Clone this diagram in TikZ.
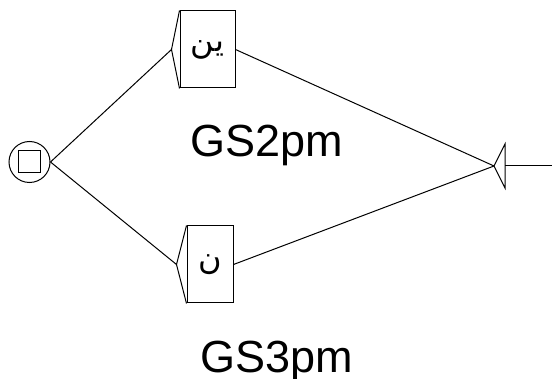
\documentclass[tikz,border=0pt]{standalone}
\usepackage{fontspec}
\setmainfont{Liberation Sans}
\newfontfamily\arabicfont[Script=Arabic]{DejaVu Sans}
\TeXXeTstate=1
\definecolor{grInk}{HTML}{000000}
\tikzset{
  gr line/.style={draw=grInk, line width=1pt},
  gr state/.style={circle, draw=grInk, line width=1pt, minimum size=41pt, inner sep=0pt},
  gr square/.style={draw=grInk, line width=1pt, minimum size=22pt, inner sep=0pt},
  gr box/.style={draw=grInk, line width=1pt, minimum height=77pt, inner sep=0pt, font=\arabicfont\fontsize{32}{36}\selectfont},
  gr output/.style={anchor=base west, inner sep=0pt, font=\fontsize{45}{50}\selectfont},
}

\begin{document}
\begin{tikzpicture}[x=1pt, y=-1pt]
  \useasboundingbox (0,0) rectangle (552,379);
  % initial state
  \node[gr state] (init) at (29.5,162) {};
  \node[gr square] (initsq) at (init.center) {};
  % the two boxes with their outputs
  \node[gr box, minimum width=55pt] (yn) at (207.5,49.5) {\raisebox{-5pt}{\beginR ين\endR}};
  \node[gr box, minimum width=46pt] (n) at (210,264.5) {\raisebox{-5pt}{\beginR ن\endR}};
  \node[gr output] (yno) at (190,157) {GS2pm};
  \node[gr output] (no) at (200,373) {GS3pm};
  % box entry points
  \coordinate (yntip) at ([xshift=-8pt]yn.west);
  \coordinate (ntip) at ([xshift=-10pt]n.west);
  \draw[gr line] (yn.north west) -- (yntip) -- (yn.south west);
  \draw[gr line] (n.north west) -- (ntip) -- (n.south west);
  % final state
  \coordinate (fin) at (494,166);
  \coordinate (finbase) at (505,166);
  \coordinate (finout) at (552,166);
  \draw[gr line] (fin) -- (505,144) -- (505,188) -- cycle;
  \draw[gr line] (finbase) -- (finout);
  % transitions
  \draw[gr line] (init.east) -- (yntip);
  \draw[gr line] (init.east) -- (ntip);
  \draw[gr line] (yn.east) -- (fin);
  \draw[gr line] (n.east) -- (fin);
\end{tikzpicture}
\end{document}
